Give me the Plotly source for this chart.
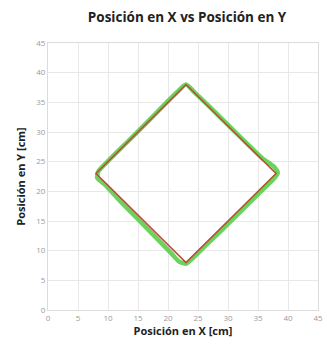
import plotly.graph_objects as go

# Reference path: the commanded square (diamond) trajectory
ref_x = [23, 38, 23, 8, 23]
ref_y = [38, 23, 8, 23, 38]

# Measured position of the robot along the path
pos_x = [23.0, 24.5, 27.0, 30.0, 33.0, 35.8, 37.6, 38.3, 37.7, 35.0, 32.0, 29.0,
         26.0, 24.0, 23.0, 21.8, 20.6, 18.0, 15.0, 12.0, 9.6, 8.2, 8.4, 10.0,
         13.0, 16.0, 19.0, 21.5, 23.0]
pos_y = [38.0, 36.6, 34.2, 31.2, 28.2, 25.5, 24.2, 23.1, 22.2, 19.5, 16.5, 13.5,
         10.6, 8.6, 7.8, 8.2, 9.5, 12.2, 15.3, 18.4, 21.0, 22.3, 23.4, 25.1,
         28.1, 31.1, 34.2, 36.7, 38.0]

tick_vals = [0, 5, 10, 15, 20, 25, 30, 35, 40, 45]

fig = go.Figure()
fig.add_trace(go.Scatter(x=pos_x, y=pos_y, mode="lines",
                         line=dict(color="#5ccf4a", width=4.5, shape="spline", smoothing=0.6),
                         opacity=0.9, showlegend=False))
fig.add_trace(go.Scatter(x=ref_x, y=ref_y, mode="lines",
                         line=dict(color="#b8503a", width=1.6),
                         showlegend=False))

axis_common = dict(
    range=[0, 45], tickvals=tick_vals, showgrid=True, gridcolor="#e8e8e8",
    gridwidth=1, zeroline=False, showline=True, mirror=True, linecolor="#dcdcdc",
    linewidth=1, ticks="", ticklabeloverflow="allow",
    tickfont=dict(family="Open Sans", size=8, color="#9a9a9a"),
)

fig.update_layout(
    width=327, height=345,
    margin=dict(l=48, r=4, t=43, b=35),
    paper_bgcolor="white", plot_bgcolor="white",
    title=dict(text="<b>Posición en X vs Posición en Y</b>", x=0.572, xanchor="center",
               y=1 - 17 / 345, yanchor="middle",
               font=dict(family="Open Sans", size=13.5, color="#222222")),
    xaxis=dict(**axis_common,
               title=dict(text="<b>Posición en X [cm]</b>", standoff=5,
                          font=dict(family="Open Sans", size=11, color="#222222"))),
    yaxis=dict(**axis_common,
               title=dict(text="<b>Posición en Y [cm]</b>", standoff=8,
                          font=dict(family="Open Sans", size=11, color="#222222"))),
)

fig.write_html("out.html")
